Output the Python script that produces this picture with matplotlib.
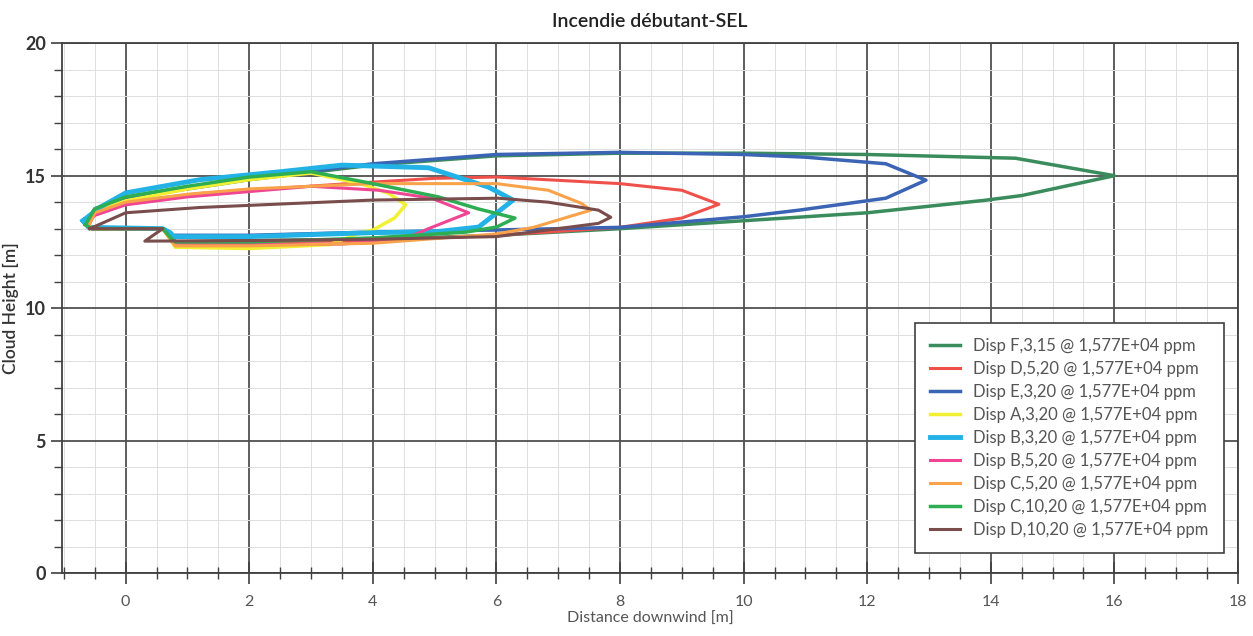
import matplotlib.pyplot as plt
from matplotlib.ticker import MultipleLocator

plt.rcParams['font.family'] = ['Lato', 'DejaVu Sans']

# contours of each dispersion case (distance downwind, cloud height)
f_3_15_x = [-0.65, -0.55, 0.6, 0.75, 0.8, 2, 4, 6, 8, 10, 12, 13.9, 14.5, 16.0,
            14.4, 12, 10, 8, 6, 4, 2, 0, -0.5, -0.65]
f_3_15_y = [13.2, 13.0, 13.0, 12.7, 12.5, 12.55, 12.6, 12.75, 13.0, 13.3, 13.6, 14.07, 14.25, 15.0,
            15.66, 15.8, 15.85, 15.85, 15.75, 15.4, 14.85, 14.15, 13.7, 13.2]

d_5_20_x = [-0.6, -0.5, 0.6, 0.75, 0.8, 2, 4, 6, 8, 9.0, 9.6,
            9.0, 8, 6, 5, 3.6, 2, 1.2, 0, -0.5, -0.6]
d_5_20_y = [13.1, 13.0, 13.0, 12.6, 12.5, 12.5, 12.55, 12.75, 13.05, 13.4, 13.92,
            14.45, 14.7, 14.95, 14.9, 14.7, 14.45, 14.33, 14.0, 13.6, 13.1]

e_3_20_x = [-0.65, -0.55, 0.6, 0.75, 0.8, 2, 4, 6, 8, 10, 10.9, 12.3, 12.95,
            12.3, 11, 10, 8, 6, 4, 2, 0, -0.5, -0.65]
e_3_20_y = [13.2, 13.0, 13.0, 12.7, 12.75, 12.75, 12.87, 12.95, 13.05, 13.45, 13.7, 14.15, 14.83,
            15.45, 15.7, 15.8, 15.88, 15.8, 15.45, 14.9, 14.15, 13.75, 13.2]

a_3_20_x = [-0.65, -0.55, 0.6, 0.75, 0.8, 2, 3.3, 3.8, 4.0, 4.35, 4.53,
            4.26, 3.8, 3.3, 3.0, 2, 1, 0, -0.5, -0.65]
a_3_20_y = [13.15, 13.0, 13.0, 12.5, 12.3, 12.25, 12.4, 12.85, 12.95, 13.4, 13.9,
            14.33, 14.7, 14.95, 15.1, 14.85, 14.5, 14.05, 13.65, 13.15]

b_3_20_x = [-0.69, -0.6, 0.6, 0.72, 0.78, 2, 4, 5.0, 5.71, 6.27,
            5.87, 4.9, 3.5, 2.5, 1.2, 0, -0.42, -0.69]
b_3_20_y = [13.3, 13.05, 13.0, 12.85, 12.7, 12.7, 12.85, 12.88, 13.06, 14.08,
            14.57, 15.3, 15.4, 15.15, 14.85, 14.35, 13.8, 13.3]

b_5_20_x = [-0.65, -0.55, 0.6, 0.75, 0.8, 2, 3.5, 4.5, 4.9, 5.55,
            4.95, 4.1, 3, 2, 1, 0, -0.5, -0.65]
b_5_20_y = [13.15, 13.0, 13.0, 12.55, 12.45, 12.4, 12.42, 12.6, 13.0, 13.6,
            14.15, 14.45, 14.6, 14.4, 14.2, 13.9, 13.5, 13.15]

c_5_20_x = [-0.6, -0.5, 0.6, 0.75, 0.8, 2, 4, 6, 6.6, 7.53,
            7.37, 6.84, 6, 4, 2, 1, 0, -0.5, -0.6]
c_5_20_y = [13.1, 13.0, 13.0, 12.5, 12.35, 12.35, 12.45, 12.8, 13.05, 13.7,
            13.96, 14.45, 14.7, 14.7, 14.5, 14.3, 14.0, 13.6, 13.1]

c_10_20_x = [-0.65, -0.55, 0.6, 0.75, 0.8, 2, 4, 5.5, 6.0, 6.3,
             5.7, 5.06, 4, 3, 2, 1, 0, -0.5, -0.65]
c_10_20_y = [13.15, 13.0, 13.0, 12.6, 12.5, 12.5, 12.65, 12.87, 13.06, 13.4,
             13.75, 14.2, 14.7, 15.15, 14.95, 14.6, 14.2, 13.75, 13.15]

d_10_20_x = [-0.58, 0.6, 0.31, 2, 4, 6, 6.56, 7.65, 7.85,
             7.65, 6.84, 6.03, 4, 1.2, 0.0, -0.58]
d_10_20_y = [13.0, 13.0, 12.53, 12.55, 12.6, 12.7, 12.87, 13.2, 13.43,
             13.7, 14.0, 14.15, 14.08, 13.8, 13.6, 13.0]

series = [
    ('Disp F,3,15 @ 1,577E+04 ppm', f_3_15_x, f_3_15_y, '#3a8c5c', 2.5),
    ('Disp D,5,20 @ 1,577E+04 ppm', d_5_20_x, d_5_20_y, '#f0504a', 2.2),
    ('Disp E,3,20 @ 1,577E+04 ppm', e_3_20_x, e_3_20_y, '#3b64b4', 2.5),
    ('Disp A,3,20 @ 1,577E+04 ppm', a_3_20_x, a_3_20_y, '#f2f032', 2.5),
    ('Disp B,3,20 @ 1,577E+04 ppm', b_3_20_x, b_3_20_y, '#22b2e6', 3.5),
    ('Disp B,5,20 @ 1,577E+04 ppm', b_5_20_x, b_5_20_y, '#f04592', 2.2),
    ('Disp C,5,20 @ 1,577E+04 ppm', c_5_20_x, c_5_20_y, '#f8a24a', 2.2),
    ('Disp C,10,20 @ 1,577E+04 ppm', c_10_20_x, c_10_20_y, '#2eae52', 2.5),
    ('Disp D,10,20 @ 1,577E+04 ppm', d_10_20_x, d_10_20_y, '#7a4d4d', 2.2),
]

fig, ax = plt.subplots(figsize=(12.53, 6.36), dpi=100)
fig.subplots_adjust(left=0.0495, right=0.988, top=0.932, bottom=0.099)

for label, xs, ys, color, lw in series:
    ax.plot(xs, ys, color=color, lw=lw, label=label, solid_joinstyle='round')

ax.set_xlim(-1.03, 18.0)
ax.set_ylim(0, 20)
ax.xaxis.set_major_locator(MultipleLocator(2))
ax.xaxis.set_minor_locator(MultipleLocator(0.5))
ax.yaxis.set_major_locator(MultipleLocator(5))
ax.yaxis.set_minor_locator(MultipleLocator(1))

ax.grid(which='minor', color='#dde0dd', lw=0.7)
ax.grid(which='major', color='#505050', lw=1.3)
ax.set_axisbelow(True)
for s in ax.spines.values():
    s.set_color('#404040')
    s.set_linewidth(1.3)

ax.tick_params(axis='x', which='major', direction='inout', length=16, width=1.2,
               color='#404040', labelsize=11.5, labelcolor='#555555', pad=8)
ax.tick_params(axis='x', which='minor', direction='inout', length=8, width=1, color='#404040')
ax.tick_params(axis='y', which='major', direction='out', length=8, width=1.2,
               color='#404040', labelsize=13, labelcolor='#333333')
ax.tick_params(axis='y', which='minor', direction='out', length=6, width=1, color='#404040')
for t in ax.get_yticklabels():
    t.set_fontweight('bold')

ax.set_title('Incendie débutant-SEL', fontsize=14, color='#222222', pad=12,
             fontweight='semibold')
ax.set_xlabel('Distance downwind [m]', fontsize=11.5, color='#555555', labelpad=2)
ax.set_ylabel('Cloud Height [m]', fontsize=12.5, color='#333333', labelpad=4,
              fontweight='semibold')

leg = ax.legend(loc='lower right', bbox_to_anchor=(0.995, 0.023), fontsize=12,
                fancybox=False, framealpha=1, edgecolor='#404040',
                handlelength=1.8, labelspacing=0.42, borderpad=0.9)
leg.get_frame().set_linewidth(1.2)
for t in leg.get_texts():
    t.set_color('#555555')

plt.savefig('out.png', dpi=100)
